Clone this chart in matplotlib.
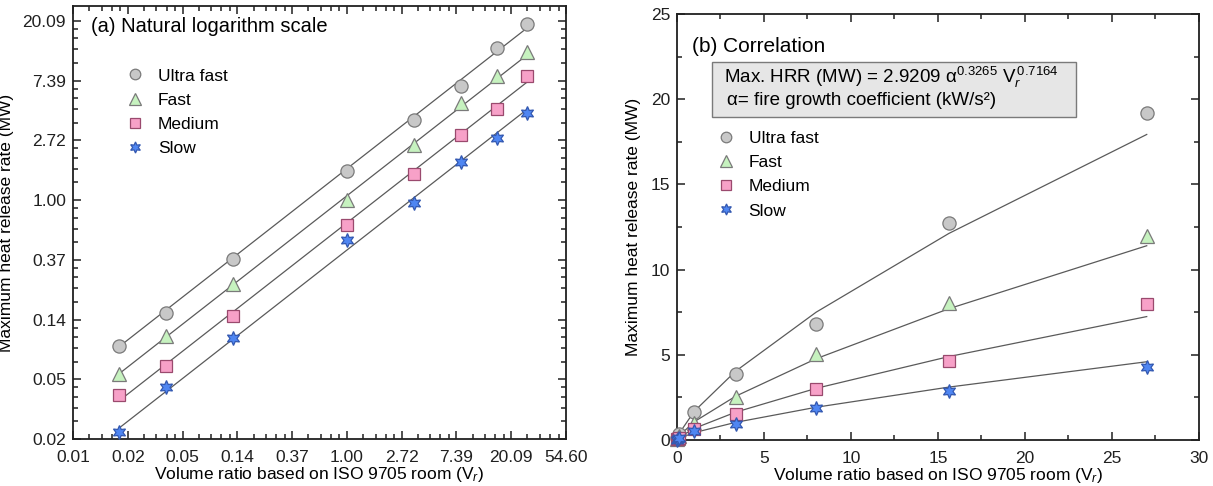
import numpy as np
import matplotlib
matplotlib.use("Agg")
import matplotlib.pyplot as plt
from matplotlib.patches import Rectangle
from matplotlib.ticker import FixedLocator, FixedFormatter

plt.rcParams['font.family'] = ['Liberation Sans', 'DejaVu Sans']
plt.rcParams['mathtext.fontset'] = 'custom'
plt.rcParams['mathtext.rm'] = 'Liberation Sans'
plt.rcParams['mathtext.it'] = 'Liberation Sans:italic'
plt.rcParams['mathtext.bf'] = 'Liberation Sans:bold'

# ---------------- data ----------------
vr = [0.015625, 0.037037, 0.125, 1.0, 3.375, 8.0, 15.625, 27.0]
series_names = ["Ultra fast", "Fast", "Medium", "Slow"]
ultra_fast = [0.087, 0.151, 0.372, 1.62, 3.85, 6.78, 12.75, 19.2]
fast = [0.054, 0.102, 0.244, 1.00, 2.50, 5.05, 8.05, 12.0]
medium = [0.038, 0.062, 0.144, 0.66, 1.55, 2.97, 4.62, 8.0]
slow = [0.0206, 0.044, 0.099, 0.51, 0.95, 1.88, 2.85, 4.3]

# correlation values at the data volume ratios (Max. HRR = 2.9209 a^0.3265 Vr^0.7164)
fit_ultra_fast = [0.0859, 0.1595, 0.381, 1.691, 4.04, 7.50, 12.12, 17.93]
fit_fast = [0.0546, 0.1014, 0.2423, 1.075, 2.569, 4.769, 7.703, 11.40]
fit_medium = [0.0347, 0.0644, 0.1540, 0.683, 1.632, 3.030, 4.894, 7.242]
fit_slow = [0.0220, 0.0408, 0.0976, 0.433, 1.035, 1.921, 3.103, 4.591]

x_ln_ticks = [-5, -4, -3, -2, -1, 0, 1, 2, 3, 4]
y_ln_ticks = [-4, -3, -2, -1, 0, 1, 2, 3]
x_tick_labels = ["0.01", "0.02", "0.05", "0.14", "0.37", "1.00", "2.72", "7.39", "20.09", "54.60"]
y_tick_labels = ["0.02", "0.05", "0.14", "0.37", "1.00", "2.72", "7.39", "20.09"]

data = [ultra_fast, fast, medium, slow]
fits = [fit_ultra_fast, fit_fast, fit_medium, fit_slow]

styles = [
    dict(marker='o', ms=9.5, mfc='#c8c8c8', mec='#7a7a7a'),
    dict(marker='^', ms=10, mfc='#c6f2bf', mec='#7a7a7a'),
    dict(marker='s', ms=9, mfc='#f7a1c8', mec='#9a4a6e'),
    dict(marker=(6, 1, 0), ms=10, mfc='#4f86f2', mec='#3358b0'),
]

FS = 12.5

fig = plt.figure(figsize=(12.13, 4.86), dpi=100)
axL = fig.add_axes([0.0602, 0.0967, 0.4064, 0.891])
axR = fig.add_axes([0.5581, 0.0947, 0.4303, 0.8765])

line_kw = dict(color='#5a5a5a', lw=0.9)

# ---------------- left: natural log scale ----------------
for y, f, name, st in zip(data, fits, series_names, styles):
    axL.plot(vr, f, **line_kw, zorder=2)
    axL.plot(vr, y, ls='none', mew=0.9, label=name, zorder=3, **st)

axL.set_xscale('log', base=np.e)
axL.set_yscale('log', base=np.e)
axL.set_xlim(np.exp(-5), np.exp(4))
axL.set_ylim(np.exp(-4), np.exp(3.25))

xt = [np.exp(k) for k in x_ln_ticks]
yt = [np.exp(k) for k in y_ln_ticks]
axL.xaxis.set_major_locator(FixedLocator(xt))
axL.xaxis.set_major_formatter(FixedFormatter(x_tick_labels))
axL.yaxis.set_major_locator(FixedLocator(yt))
axL.yaxis.set_major_formatter(FixedFormatter(y_tick_labels))


def lin_minor(lo_exp, hi_exp, n=5):
    out = []
    for k in range(lo_exp, hi_exp):
        a, b = np.exp(k), np.exp(k + 1)
        out += [a + (b - a) * j / n for j in range(1, n)]
    return out


axL.xaxis.set_minor_locator(FixedLocator(lin_minor(-5, 4)))
axL.yaxis.set_minor_locator(FixedLocator(lin_minor(-4, 4)))
axL.xaxis.set_minor_formatter(FixedFormatter([]))
axL.yaxis.set_minor_formatter(FixedFormatter([]))

axL.set_xlabel("Volume ratio based on ISO 9705 room (V$_r$)", fontsize=FS, labelpad=0)
axL.set_ylabel("Maximum heat release rate (MW)", fontsize=FS, labelpad=6)
axL.text(0.037, 0.975, "(a) Natural logarithm scale", transform=axL.transAxes,
         fontsize=14.5, va='top', ha='left')
axL.legend(loc='upper left', bbox_to_anchor=(0.095, 0.872), frameon=False,
           fontsize=FS, handlelength=1.0, handletextpad=0.8, labelspacing=0.52,
           markerscale=0.8, borderaxespad=0)

# ---------------- right: correlation ----------------
for y, f, name, st in zip(data, fits, series_names, styles):
    axR.plot(vr, f, **line_kw, zorder=2)
    axR.plot(vr, y, ls='none', mew=0.9, label=name, zorder=3, clip_on=False, **st)

axR.set_xlim(0, 30)
axR.set_ylim(0, 25)
axR.set_xticks([0, 5, 10, 15, 20, 25, 30])
axR.set_yticks([0, 5, 10, 15, 20, 25])
axR.set_xticks(np.arange(2.5, 30, 5), minor=True)
axR.set_yticks(np.arange(2.5, 25, 5), minor=True)
axR.set_xlabel("Volume ratio based on ISO 9705 room (V$_r$)", fontsize=FS, labelpad=0)
axR.set_ylabel("Maximum heat release rate (MW)", fontsize=FS, labelpad=7)
axR.text(0.029, 0.945, "(b) Correlation", transform=axR.transAxes,
         fontsize=15, va='top', ha='left')

axR.add_patch(Rectangle((0.067, 0.758), 0.697, 0.129, transform=axR.transAxes,
                        facecolor='#e6e6e6', edgecolor='#7a7a7a', lw=1.0, zorder=1))
axR.text(0.090, 0.852, "Max. HRR (MW) = 2.9209 \u03b1$^{0.3265}$ V$_r^{\\,0.7164}$",
         transform=axR.transAxes, fontsize=13.5, va='center', ha='left', zorder=4)
axR.text(0.096, 0.797, "\u03b1= fire growth coefficient (kW/s\u00b2)",
         transform=axR.transAxes, fontsize=13.5, va='center', ha='left', zorder=4)
axR.legend(loc='upper left', bbox_to_anchor=(0.064, 0.742), frameon=False,
           fontsize=FS, handlelength=1.0, handletextpad=0.8, labelspacing=0.52,
           markerscale=0.8, borderaxespad=0)

for ax in (axL, axR):
    for s in ax.spines.values():
        s.set_linewidth(1.3)
        s.set_color('#202020')
    ax.tick_params(which='both', direction='in', top=True, right=True,
                   labelsize=FS, colors='#202020', width=1.1)
    ax.tick_params(which='major', length=6)
    ax.tick_params(which='minor', length=3.5)
    ax.tick_params(axis='x', which='major', pad=8)
    ax.tick_params(axis='y', which='major', pad=5)

fig.savefig("out.png", dpi=100)
